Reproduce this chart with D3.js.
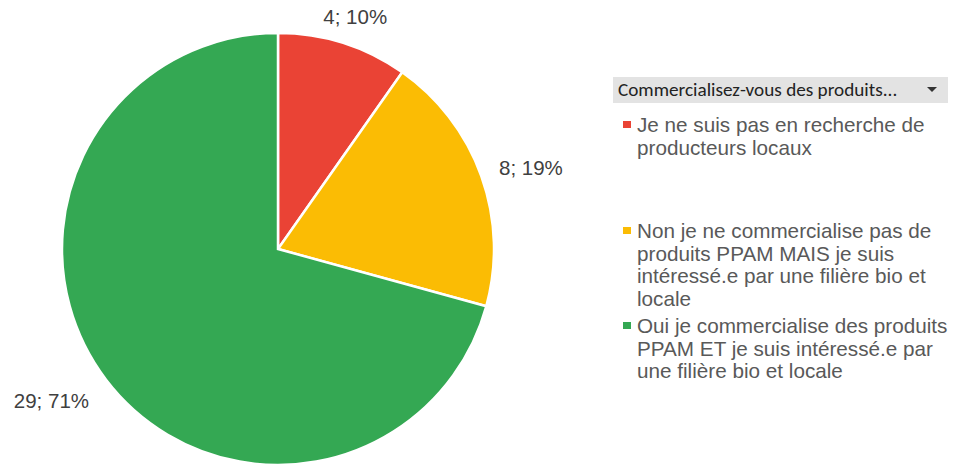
<!DOCTYPE html>
<html>
<head>
<meta charset="utf-8">
<script src="https://cdn.jsdelivr.net/npm/d3@7"></script>
<style>
  body { margin: 0; background: #fff; }
  svg { display: block; }
  .lbl { font-family: "Liberation Sans", Arial, sans-serif; font-size: 20.5px; fill: #404040; }
  .leg { font-family: "Liberation Sans", Arial, sans-serif; font-size: 20.7px; fill: #595959; }
  .hdr { font-family: "Carlito", "Liberation Sans", sans-serif; font-size: 19.2px; fill: #222; }
</style>
</head>
<body>
<svg width="953" height="465"></svg>
<script>
// data
const categories = [
  "Je ne suis pas en recherche de producteurs locaux",
  "Non je ne commercialise pas de produits PPAM MAIS je suis intéressé.e par une filière bio et locale",
  "Oui je commercialise des produits PPAM ET je suis intéressé.e par une filière bio et locale"
];
const counts = [4, 8, 29];
const percentLabels = ["10%", "19%", "71%"];
const legendLines = [
  ["Je ne suis pas en recherche de", "producteurs locaux"],
  ["Non je ne commercialise pas de", "produits PPAM MAIS je suis", "intéressé.e par une filière bio et", "locale"],
  ["Oui je commercialise des produits", "PPAM ET je suis intéressé.e par", "une filière bio et locale"]
];
const colors = ["#EA4335", "#FBBC04", "#34A853"];

var svg = d3.select("svg");
var cx = 278, cy = 249, r = 216;

var pie = d3.pie().sort(null).value(function(d) { return d; });
var arcs = pie(counts);
var arc = d3.arc().innerRadius(0).outerRadius(r);

var g = svg.append("g").attr("transform", "translate(" + cx + "," + cy + ")");

g.selectAll("path")
  .data(arcs)
  .enter()
  .append("path")
  .attr("d", arc)
  .attr("fill", function(d, i) { return colors[i]; })
  .attr("stroke", "#fff")
  .attr("stroke-width", 2.5);

// outside labels
var labelArc = d3.arc().innerRadius(r + 40).outerRadius(r + 40);
var labelOffsets = [[0, 14], [12, 7], [-23, -2]];
g.selectAll("text.lbl")
  .data(arcs)
  .enter()
  .append("text")
  .attr("class", "lbl")
  .attr("text-anchor", "middle")
  .attr("dominant-baseline", "middle")
  .attr("x", function(d, i) { return labelArc.centroid(d)[0] + labelOffsets[i][0]; })
  .attr("y", function(d, i) { return labelArc.centroid(d)[1] + labelOffsets[i][1]; })
  .text(function(d, i) { return counts[i] + "; " + percentLabels[i]; });

// legend header
var lx = 613;
svg.append("rect")
  .attr("x", lx).attr("y", 77)
  .attr("width", 335).attr("height", 26)
  .attr("fill", "#e3e3e3");
svg.append("text")
  .attr("class", "hdr")
  .attr("x", lx + 5).attr("y", 96)
  .text("Commercialisez-vous des produits...");
svg.append("path")
  .attr("d", "M927,87 L937,87 L932,92 Z")
  .attr("fill", "#333");

// legend items
var itemTop = [132, 238, 333];
var lineH = 22.7;
legendLines.forEach(function(lines, i) {
  svg.append("rect")
    .attr("x", 623).attr("y", itemTop[i] - 11)
    .attr("width", 8).attr("height", 7)
    .attr("fill", colors[i]);
  var t = svg.append("text").attr("class", "leg");
  lines.forEach(function(s, j) {
    t.append("tspan")
      .attr("x", 637)
      .attr("y", itemTop[i] + j * lineH)
      .text(s);
  });
});
</script>
</body>
</html>
